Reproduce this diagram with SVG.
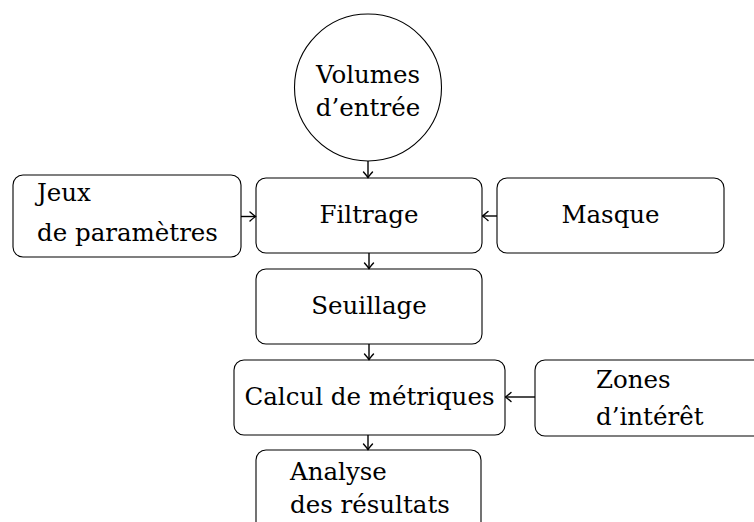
<svg xmlns="http://www.w3.org/2000/svg" width="754" height="522" viewBox="0 0 754 522">
  <style>
    .box { fill: #ffffff; stroke: #000000; stroke-width: 1.1; }
    .lbl { font-family: "DejaVu Serif", "Liberation Serif", serif; font-size: 24.5px; fill: #000000; }
    .mid { text-anchor: middle; }
    .edge { stroke: #000000; stroke-width: 1.4; fill: none; marker-end: url(#arr); }
  </style>
  <defs>
    <marker id="arr" viewBox="-7 -6 8 12" refX="0" refY="0" markerWidth="8" markerHeight="12" markerUnits="userSpaceOnUse" orient="auto">
      <path d="M -5.5 -4.5 Q -1.5 -1 0 0 Q -1.5 1 -5.5 4.5" fill="none" stroke="#000000" stroke-width="1.4" stroke-linecap="round"/>
    </marker>
  </defs>
  <rect width="754" height="522" fill="#ffffff"/>

  <g id="volumes">
    <circle class="box" cx="368" cy="87.5" r="73.5"/>
    <text class="lbl mid" x="368" y="83">Volumes</text>
    <text class="lbl mid" x="368" y="116">d’entrée</text>
  </g>
  <g id="jeux">
    <rect class="box" x="13" y="175" width="228" height="82" rx="10"/>
    <text class="lbl" x="37" y="201">Jeux</text>
    <text class="lbl" x="37" y="241">de paramètres</text>
  </g>
  <g id="filtrage">
    <rect class="box" x="256" y="178" width="226" height="75" rx="10"/>
    <text class="lbl mid" x="369" y="223">Filtrage</text>
  </g>
  <g id="masque">
    <rect class="box" x="497" y="178" width="227" height="75" rx="10"/>
    <text class="lbl mid" x="610.5" y="223">Masque</text>
  </g>
  <g id="seuillage">
    <rect class="box" x="256" y="269" width="226" height="75" rx="10"/>
    <text class="lbl mid" x="369" y="314">Seuillage</text>
  </g>
  <g id="calcul">
    <rect class="box" x="234" y="360" width="271" height="75" rx="10"/>
    <text class="lbl mid" x="369.5" y="405">Calcul de métriques</text>
  </g>
  <g id="zones">
    <rect class="box" x="535" y="360" width="230" height="76" rx="10"/>
    <text class="lbl" x="596" y="388">Zones</text>
    <text class="lbl" x="596" y="425">d’intérêt</text>
  </g>
  <g id="analyse">
    <rect class="box" x="256" y="450" width="225" height="90" rx="10"/>
    <text class="lbl" x="290" y="480">Analyse</text>
    <text class="lbl" x="290" y="513">des résultats</text>
  </g>

  <g id="connectors">
    <line class="edge" x1="368" y1="161" x2="368" y2="177.5"/>
    <line class="edge" x1="241" y1="216.5" x2="255.5" y2="216.5"/>
    <line class="edge" x1="497" y1="216" x2="482.5" y2="216"/>
    <line class="edge" x1="369" y1="253" x2="369" y2="268.5"/>
    <line class="edge" x1="369" y1="344" x2="369" y2="359.5"/>
    <line class="edge" x1="535" y1="397" x2="505.5" y2="397"/>
    <line class="edge" x1="368" y1="435" x2="368" y2="449.5"/>
  </g>
</svg>
